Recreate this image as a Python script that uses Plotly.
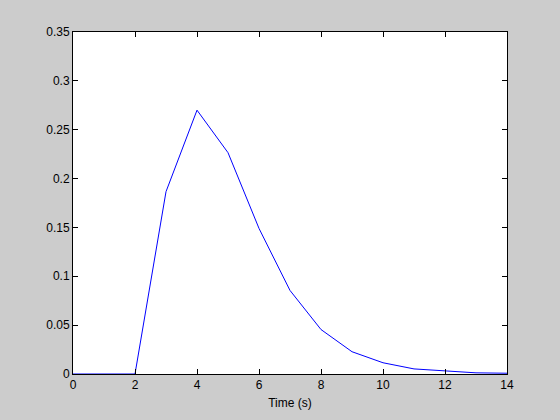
import plotly.graph_objects as go

time_s = [0, 1, 2, 3, 4, 5, 6, 7, 8, 9, 10, 11, 12, 13, 14]
values = [0, 0, 0, 0.1866, 0.270, 0.2265, 0.149, 0.0855, 0.0455, 0.0228, 0.0115, 0.0052, 0.0030, 0.0012, 0.0008]

x_ticks = [0, 2, 4, 6, 8, 10, 12, 14]
y_ticks = [0, 0.05, 0.1, 0.15, 0.2, 0.25, 0.3, 0.35]
y_ticklabels = ["0", "0.05", "0.1", "0.15", "0.2", "0.25", "0.3", "0.35"]

fig = go.Figure()
fig.add_trace(go.Scatter(x=time_s, y=values, mode="lines",
                         line=dict(color="#0000ff", width=1), showlegend=False))

font = dict(family="Liberation Sans, Arial", size=12, color="black")
axis_common = dict(showgrid=False, zeroline=False, showline=True, linecolor="black",
                   linewidth=1, mirror="ticks", ticks="inside", ticklen=5,
                   tickcolor="black", tickfont=font, layer="above traces")

fig.update_layout(
    width=560, height=420,
    paper_bgcolor="#cccccc", plot_bgcolor="white",
    margin=dict(l=73, r=53, t=32, b=46),
    xaxis=dict(range=[0, 14], tickvals=x_ticks,
               title=dict(text="Time (s)", font=font, standoff=7),
               **axis_common),
    yaxis=dict(range=[0, 0.35], tickvals=y_ticks, ticktext=y_ticklabels, **axis_common),
)
fig.write_html("out.html", config={"displayModeBar": False},
               post_script="document.body.style.margin='0';document.body.style.background='#cccccc';")
